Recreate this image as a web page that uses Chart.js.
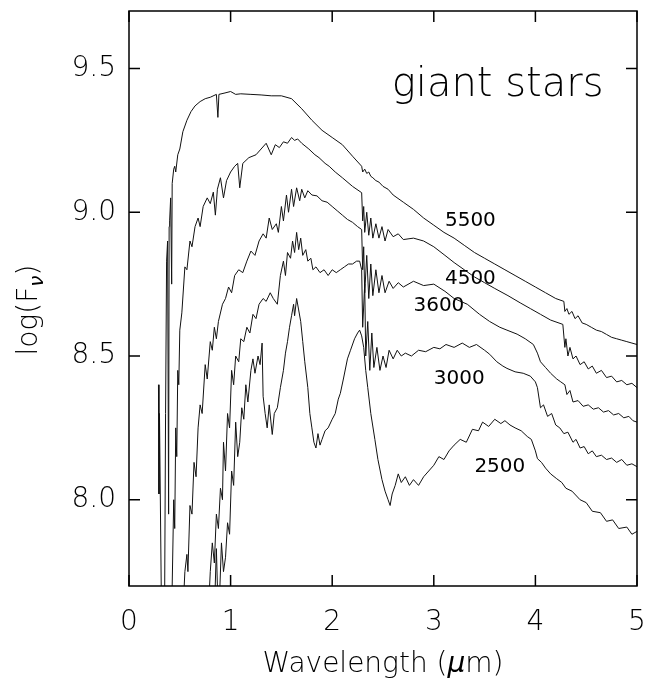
<!DOCTYPE html>
<html>
<head>
<meta charset="utf-8">
<script src="https://cdn.jsdelivr.net/npm/chart.js@4.4.0/dist/chart.umd.min.js"></script>
<style>
  html, body { margin: 0; background: #fff; }
  canvas { display: block; }
</style>
</head>
<body>
<canvas id="spectra" width="646" height="681"></canvas>
<script>
// ===============================
// DATA
// ===============================
const xTicks = [0, 1, 2, 3, 4, 5];
const yTicks = [8.0, 8.5, 9.0, 9.5];
const curveLabels = ["5500", "4500", "3600", "3000", "2500"];

// Teff = 5500 K
const wl5500 = [
  0.29, 0.295, 0.30, 0.32, 0.35, 0.36, 0.37, 0.38, 0.39, 0.395,
  0.40, 0.41, 0.42, 0.425, 0.44, 0.45, 0.46, 0.48, 0.50, 0.53,
  0.57, 0.61, 0.65, 0.70, 0.75, 0.80, 0.86, 0.875, 0.885, 0.945,
  1.00, 1.05, 1.10, 1.20, 1.30, 1.40, 1.50, 1.60, 1.70, 1.80,
  1.90, 2.00, 2.10, 2.20, 2.29, 2.30, 2.32, 2.34, 2.36, 2.38,
  2.40, 2.43, 2.46, 2.50, 2.55, 2.60, 2.70, 2.80, 2.90, 3.00,
  3.10, 3.20, 3.30, 3.40, 3.50, 3.60, 3.70, 3.80, 3.90, 4.00,
  4.10, 4.20, 4.28, 4.29, 4.31, 4.33, 4.36, 4.39, 4.42, 4.46,
  4.50, 4.55, 4.60, 4.65, 4.70, 4.75, 4.80, 4.85, 4.90, 4.95,
  5.00
];
const f5500 = [
  8.40, 8.02, 8.30, 7.60, 7.60, 8.30, 8.83, 8.90, 7.95, 8.95,
  8.97, 9.05, 8.75, 9.10, 9.15, 9.16, 9.14, 9.20, 9.22, 9.28,
  9.32, 9.35, 9.37, 9.385, 9.395, 9.40, 9.41, 9.33, 9.41, 9.415,
  9.42, 9.41, 9.412, 9.41, 9.408, 9.405, 9.405, 9.395, 9.36, 9.32,
  9.285, 9.26, 9.235, 9.195, 9.16, 9.14, 9.15, 9.135, 9.14, 9.125,
  9.12, 9.11, 9.105, 9.09, 9.08, 9.06, 9.035, 9.01, 8.98, 8.955,
  8.93, 8.91, 8.885, 8.86, 8.84, 8.82, 8.80, 8.78, 8.76, 8.74,
  8.72, 8.70, 8.69, 8.655, 8.665, 8.645, 8.655, 8.63, 8.64, 8.615,
  8.61, 8.60, 8.59, 8.585, 8.575, 8.565, 8.56, 8.555, 8.55, 8.545,
  8.54
];

// Teff = 4500 K
const wl4500 = [
  0.42, 0.44, 0.45, 0.46, 0.47, 0.48, 0.49, 0.50, 0.52, 0.55,
  0.57, 0.60, 0.62, 0.65, 0.68, 0.70, 0.73, 0.77, 0.80, 0.83,
  0.85, 0.87, 0.90, 0.93, 0.96, 1.00, 1.04, 1.07, 1.09, 1.12,
  1.18, 1.25, 1.30, 1.35, 1.40, 1.44, 1.48, 1.52, 1.56, 1.60,
  1.63, 1.66, 1.70, 1.77, 1.83, 1.87, 1.93, 1.97, 2.03, 2.10,
  2.20, 2.29, 2.30, 2.31, 2.32, 2.34, 2.36, 2.38, 2.40, 2.43,
  2.46, 2.49, 2.52, 2.55, 2.60, 2.65, 2.70, 2.80, 2.90, 3.00,
  3.11, 3.20, 3.30, 3.40, 3.50, 3.60, 3.73, 3.85, 3.95, 4.05,
  4.15, 4.27, 4.29, 4.30, 4.32, 4.34, 4.37, 4.40, 4.44, 4.48,
  4.52, 4.56, 4.60, 4.65, 4.70, 4.75, 4.80, 4.85, 4.90, 4.95,
  5.00
];
const f4500 = [
  7.60, 8.00, 7.90, 8.25, 8.15, 8.45, 8.40, 8.59, 8.65, 8.81,
  8.80, 8.90, 8.88, 8.95, 8.98, 8.95, 9.02, 9.05, 9.03, 9.07,
  8.99, 9.08, 9.12, 9.05, 9.11, 9.14, 9.16, 9.17, 9.085, 9.17,
  9.19, 9.20, 9.22, 9.24, 9.20, 9.235, 9.225, 9.245, 9.24, 9.26,
  9.25, 9.255, 9.24, 9.22, 9.20, 9.19, 9.17, 9.16, 9.14, 9.12,
  9.09, 9.068, 8.97, 9.02, 8.93, 9.00, 8.92, 8.98, 8.91, 8.96,
  8.91, 8.95, 8.90, 8.94, 8.915, 8.925, 8.905, 8.91, 8.90, 8.88,
  8.85, 8.825, 8.80, 8.775, 8.755, 8.735, 8.71, 8.685, 8.665, 8.645,
  8.625, 8.61, 8.53, 8.56, 8.50, 8.53, 8.49, 8.50, 8.47, 8.48,
  8.455, 8.465, 8.44, 8.45, 8.425, 8.43, 8.41, 8.415, 8.40, 8.405,
  8.39
];

// Teff = 3600 K
const wl3600 = [
  0.53, 0.55, 0.57, 0.58, 0.60, 0.62, 0.64, 0.66, 0.68, 0.70,
  0.72, 0.75, 0.77, 0.80, 0.82, 0.84, 0.86, 0.88, 0.92, 0.95,
  0.98, 1.01, 1.04, 1.08, 1.12, 1.16, 1.20, 1.24, 1.28, 1.32,
  1.35, 1.38, 1.41, 1.45, 1.47, 1.50, 1.52, 1.55, 1.57, 1.60,
  1.62, 1.65, 1.68, 1.70, 1.73, 1.76, 1.80, 1.85, 1.90, 1.95,
  2.00, 2.05, 2.10, 2.15, 2.20, 2.25, 2.29, 2.30, 2.31, 2.32,
  2.34, 2.36, 2.38, 2.40, 2.43, 2.46, 2.49, 2.52, 2.56, 2.60,
  2.65, 2.70, 2.80, 2.90, 3.00, 3.11, 3.20, 3.33, 3.45, 3.55,
  3.65, 3.72, 3.82, 3.90, 3.98, 4.02, 4.05, 4.10, 4.15, 4.21,
  4.25, 4.29, 4.31, 4.34, 4.37, 4.42, 4.47, 4.52, 4.57, 4.62,
  4.67, 4.72, 4.77, 4.82, 4.87, 4.92, 4.96, 5.00
];
const f3600 = [
  7.60, 7.75, 7.81, 7.75, 7.98, 7.95, 8.13, 8.08, 8.25, 8.33,
  8.30, 8.47, 8.42, 8.55, 8.52, 8.60, 8.56, 8.62, 8.68, 8.70,
  8.74, 8.72, 8.78, 8.80, 8.79, 8.83, 8.865, 8.85, 8.90, 8.925,
  8.91, 8.98, 8.94, 8.96, 8.93, 9.02, 8.97, 9.06, 9.00, 9.08,
  9.02, 9.085, 9.04, 9.08, 9.05, 9.075, 9.06, 9.057, 9.04, 9.035,
  9.02, 9.005, 8.99, 8.975, 8.965, 8.95, 8.94, 8.80, 8.88, 8.72,
  8.85, 8.70, 8.82, 8.71, 8.80, 8.72, 8.78, 8.72, 8.76, 8.735,
  8.755, 8.74, 8.76, 8.745, 8.75, 8.725, 8.70, 8.68, 8.645, 8.62,
  8.60, 8.59, 8.576, 8.56, 8.54, 8.51, 8.48, 8.46, 8.44, 8.42,
  8.41, 8.40, 8.366, 8.38, 8.34, 8.345, 8.325, 8.33, 8.315, 8.32,
  8.305, 8.31, 8.295, 8.30, 8.285, 8.29, 8.275, 8.27
];

// Teff = 3000 K
const wl3000 = [
  0.78, 0.80, 0.82, 0.84, 0.86, 0.88, 0.90, 0.92, 0.93, 0.95,
  0.97, 0.99, 1.01, 1.03, 1.05, 1.08, 1.10, 1.13, 1.16, 1.19,
  1.22, 1.25, 1.28, 1.32, 1.35, 1.39, 1.42, 1.46, 1.49, 1.52,
  1.54, 1.56, 1.59, 1.61, 1.63, 1.65, 1.67, 1.69, 1.71, 1.74,
  1.76, 1.79, 1.81, 1.84, 1.88, 1.92, 1.96, 2.00, 2.04, 2.08,
  2.12, 2.16, 2.20, 2.24, 2.27, 2.29, 2.30, 2.32, 2.33, 2.35,
  2.37, 2.39, 2.41, 2.44, 2.47, 2.50, 2.53, 2.56, 2.60, 2.64,
  2.68, 2.72, 2.78, 2.85, 2.92, 3.00, 3.06, 3.12, 3.20, 3.28,
  3.35, 3.42, 3.50, 3.55, 3.62, 3.68, 3.72, 3.80, 3.88, 3.95,
  4.00, 4.02, 4.05, 4.08, 4.12, 4.16, 4.20, 4.24, 4.28, 4.32,
  4.37, 4.40, 4.44, 4.48, 4.52, 4.56, 4.60, 4.65, 4.70, 4.75,
  4.80, 4.85, 4.90, 4.95, 5.00
];
const f3000 = [
  7.60, 7.75, 7.85, 7.78, 7.95, 7.90, 8.04, 8.00, 8.20, 8.10,
  8.30, 8.25, 8.45, 8.40, 8.50, 8.48, 8.56, 8.55, 8.60, 8.58,
  8.645, 8.63, 8.68, 8.70, 8.69, 8.72, 8.70, 8.68, 8.78, 8.83,
  8.78, 8.86, 8.84, 8.90, 8.86, 8.93, 8.87, 8.91, 8.85, 8.87,
  8.83, 8.84, 8.80, 8.81, 8.79, 8.80, 8.78, 8.80, 8.79, 8.80,
  8.81, 8.82, 8.82, 8.83, 8.83, 8.80, 8.60, 8.75, 8.50, 8.62,
  8.45, 8.58, 8.46, 8.53, 8.45, 8.50, 8.46, 8.52, 8.49, 8.52,
  8.50, 8.51, 8.50, 8.52, 8.515, 8.53, 8.525, 8.54, 8.53, 8.545,
  8.53, 8.54, 8.52, 8.506, 8.48, 8.465, 8.457, 8.445, 8.44, 8.43,
  8.41, 8.39, 8.32, 8.33, 8.29, 8.30, 8.26, 8.25, 8.23, 8.235,
  8.20, 8.21, 8.18, 8.185, 8.16, 8.17, 8.15, 8.155, 8.14, 8.145,
  8.13, 8.14, 8.12, 8.125, 8.115
];

// Teff = 2500 K
const wl2500 = [
  0.84, 0.86, 0.87, 0.89, 0.91, 0.93, 0.95, 0.97, 0.99, 1.01,
  1.03, 1.05, 1.07, 1.09, 1.11, 1.13, 1.15, 1.17, 1.20, 1.22,
  1.24, 1.27, 1.29, 1.31, 1.32, 1.34, 1.36, 1.38, 1.40, 1.41,
  1.43, 1.46, 1.49, 1.52, 1.54, 1.56, 1.58, 1.60, 1.62, 1.63,
  1.65, 1.67, 1.69, 1.71, 1.73, 1.76, 1.78, 1.80, 1.82, 1.84,
  1.86, 1.88, 1.90, 1.93, 1.96, 2.00, 2.03, 2.06, 2.08, 2.11,
  2.15, 2.18, 2.22, 2.25, 2.27, 2.29, 2.31, 2.33, 2.35, 2.38,
  2.42, 2.45, 2.49, 2.52, 2.55, 2.57, 2.59, 2.62, 2.65, 2.68,
  2.72, 2.76, 2.80, 2.85, 2.90, 2.95, 3.00, 3.05, 3.10, 3.15,
  3.20, 3.26, 3.32, 3.38, 3.44, 3.48, 3.54, 3.60, 3.66, 3.70,
  3.75, 3.80, 3.86, 3.92, 3.96, 4.00, 4.02, 4.06, 4.10, 4.15,
  4.21, 4.26, 4.30, 4.36, 4.44, 4.50, 4.56, 4.64, 4.70, 4.76,
  4.82, 4.90, 4.95, 5.00
];
const f2500 = [
  7.60, 7.83, 7.70, 7.65, 7.85, 7.75, 7.80, 7.92, 7.88, 8.10,
  8.05, 8.27, 8.15, 8.20, 8.32, 8.28, 8.40, 8.34, 8.45, 8.49,
  8.44, 8.50, 8.47, 8.545, 8.36, 8.30, 8.25, 8.33, 8.26, 8.227,
  8.30, 8.32, 8.39, 8.45, 8.51, 8.55, 8.60, 8.64, 8.68, 8.64,
  8.70, 8.66, 8.62, 8.55, 8.48, 8.39, 8.30, 8.25, 8.20, 8.18,
  8.23, 8.19, 8.21, 8.24, 8.25, 8.28, 8.30, 8.35, 8.37, 8.42,
  8.49, 8.52, 8.56, 8.58, 8.59, 8.57, 8.53, 8.45, 8.39, 8.30,
  8.21, 8.14, 8.07, 8.03, 8.00, 7.98, 8.02, 8.05, 8.09, 8.06,
  8.08, 8.05, 8.07, 8.05, 8.08, 8.10, 8.12, 8.15, 8.14, 8.17,
  8.19, 8.21, 8.20, 8.245, 8.24, 8.27, 8.255, 8.28, 8.265, 8.275,
  8.26, 8.25, 8.24, 8.22, 8.21, 8.17, 8.143, 8.13, 8.11, 8.09,
  8.073, 8.06, 8.04, 8.03, 8.00, 7.99, 7.96, 7.955, 7.925, 7.93,
  7.90, 7.905, 7.88, 7.89
];

// ===============================
// LAYOUT / STYLE
// ===============================
const FONT = "'DejaVu Sans', sans-serif";
const W = 200; // thin lettering, like the plotter font of the original
// where each temperature label sits, in data units (wavelength, logF)
const labelPos = [[3.36, 8.97], [3.36, 8.77], [3.05, 8.673], [3.25, 8.419], [3.65, 8.115]];

const toPoints = (wl, f) => wl.map((x, i) => ({ x, y: f[i] }));

const spectrum = (label, wl, f) => ({
  label,
  data: toPoints(wl, f),
  borderColor: "#111",
  borderWidth: 1,
  pointRadius: 0,
  fill: false,
  tension: 0
});

// frame, inward ticks, text annotations and axis titles
const figureDecor = {
  id: "figureDecor",
  afterDraw(chart) {
    const { ctx, chartArea: a, scales: { x, y } } = chart;
    ctx.save();

    ctx.strokeStyle = "#000";
    ctx.lineWidth = 1.5;
    ctx.strokeRect(a.left, a.top, a.right - a.left, a.bottom - a.top);

    ctx.beginPath();
    xTicks.forEach(v => {
      const p = x.getPixelForValue(v);
      ctx.moveTo(p, a.bottom); ctx.lineTo(p, a.bottom - 11);
      ctx.moveTo(p, a.top); ctx.lineTo(p, a.top + 11);
    });
    yTicks.forEach(v => {
      const p = y.getPixelForValue(v);
      ctx.moveTo(a.left, p); ctx.lineTo(a.left + 11, p);
      ctx.moveTo(a.right, p); ctx.lineTo(a.right - 11, p);
    });
    ctx.stroke();

    ctx.fillStyle = "#000";
    ctx.textBaseline = "middle";
    ctx.textAlign = "center";
    ctx.font = `20px ${FONT}`;
    curveLabels.forEach((t, i) => {
      ctx.fillText(t, x.getPixelForValue(labelPos[i][0]), y.getPixelForValue(labelPos[i][1]));
    });

    ctx.font = `${W} 40px ${FONT}`;
    ctx.textAlign = "right";
    ctx.fillText("giant stars", x.getPixelForValue(4.67), y.getPixelForValue(9.44));

    // x title: Wavelength (μm)
    ctx.textBaseline = "alphabetic";
    ctx.textAlign = "left";
    const normal = `${W} 28px ${FONT}`, italic = `italic ${W} 28px ${FONT}`;
    const parts = [["Wavelength (", normal], ["\u03bc", italic], ["m)", normal]];
    let total = 0;
    parts.forEach(([t, f]) => { ctx.font = f; total += ctx.measureText(t).width; });
    let cx = (a.left + a.right) / 2 - total / 2;
    parts.forEach(([t, f]) => { ctx.font = f; ctx.fillText(t, cx, 672); cx += ctx.measureText(t).width; });

    // y title: log(F_nu)
    ctx.translate(37, 310);
    ctx.rotate(-Math.PI / 2);
    const yparts = [["log(F", normal, 0], ["\u03bd", `italic ${W} 20px ${FONT}`, 6], [")", normal, 0]];
    total = 0;
    yparts.forEach(([t, f]) => { ctx.font = f; total += ctx.measureText(t).width; });
    cx = -total / 2;
    yparts.forEach(([t, f, dy]) => { ctx.font = f; ctx.fillText(t, cx, dy); cx += ctx.measureText(t).width; });

    ctx.restore();
  }
};

// no extra room for tick-label overhang: the plot box is fixed by layout padding
const noOverhang = s => { s.paddingTop = 0; s.paddingBottom = 0; s.paddingLeft = 0; s.paddingRight = 0; };

// ===============================
// CHART
// ===============================
new Chart(document.getElementById("spectra"), {
  type: "line",
  data: {
    datasets: [
      spectrum("5500", wl5500, f5500),
      spectrum("4500", wl4500, f4500),
      spectrum("3600", wl3600, f3600),
      spectrum("3000", wl3000, f3000),
      spectrum("2500", wl2500, f2500)
    ]
  },
  options: {
    responsive: false,
    animation: false,
    devicePixelRatio: 1,
    events: [],
    layout: { padding: { top: 11, right: 9, left: 0, bottom: 0 } },
    plugins: { legend: { display: false }, tooltip: { enabled: false } },
    scales: {
      x: {
        type: "linear",
        min: 0,
        max: 5,
        afterBuildTicks: s => { s.ticks = xTicks.map(v => ({ value: v })); },
        afterFit: s => { s.height = 95; noOverhang(s); },
        grid: { display: false, drawTicks: false },
        border: { display: false },
        ticks: {
          color: "#000",
          font: { family: FONT, size: 28, weight: W },
          padding: 20,
          maxRotation: 0,
          autoSkip: false,
          callback: v => String(v)
        }
      },
      y: {
        type: "linear",
        min: 7.7,
        max: 9.7,
        afterBuildTicks: s => { s.ticks = yTicks.map(v => ({ value: v })); },
        afterFit: s => { s.width = 129; noOverhang(s); },
        grid: { display: false, drawTicks: false },
        border: { display: false },
        ticks: {
          color: "#000",
          font: { family: FONT, size: 28, weight: W },
          padding: 13,
          autoSkip: false,
          callback: v => v.toFixed(1)
        }
      }
    }
  },
  plugins: [figureDecor]
});
</script>
</body>
</html>
